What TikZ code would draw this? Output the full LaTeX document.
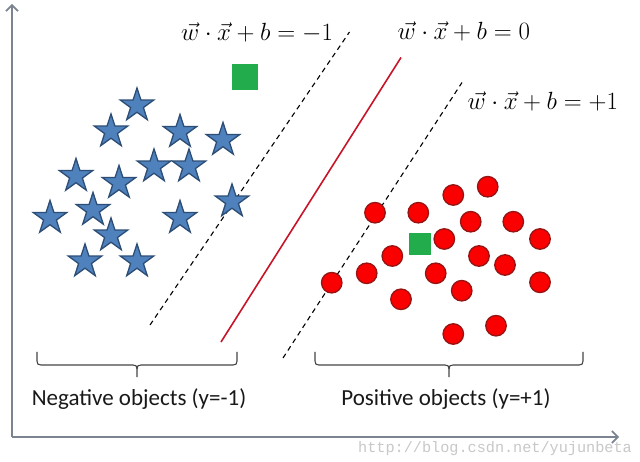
\documentclass[tikz,border=0pt]{standalone}
\usepackage{fontspec}
\newfontfamily\labelfont{Carlito}
\newfontfamily\wmfont{Liberation Mono}
\usetikzlibrary{shapes.geometric,arrows.meta}
\definecolor{starblue}{RGB}{79,129,189}
\definecolor{stardark}{RGB}{44,77,117}
\definecolor{dotred}{RGB}{250,0,0}
\definecolor{dotdark}{RGB}{150,20,20}
\definecolor{sqgreen}{RGB}{34,172,76}
\definecolor{axisgray}{RGB}{125,132,145}
\definecolor{bracegray}{RGB}{70,70,70}
\definecolor{sepred}{RGB}{200,20,40}
\definecolor{wmgray}{RGB}{200,200,200}
\begin{document}
\begin{tikzpicture}[x=1pt,y=-1pt,
 starnode/.style={star, star points=5, star point ratio=2.6, minimum size=35pt, inner sep=0pt, fill=starblue, draw=stardark, line width=1.3pt},
 dotnode/.style={circle, minimum size=20.5pt, inner sep=0pt, fill=dotred, draw=dotdark, line width=1.3pt},
 sqnode/.style={rectangle, inner sep=0pt, fill=sqgreen},
 eqnode/.style={anchor=base west, inner sep=0pt, font=\fontsize{27.5}{32}\selectfont},
 labelnode/.style={anchor=base, inner sep=0pt, font=\labelfont\fontsize{23}{27}\selectfont, text=black!90},
 wmnode/.style={anchor=base west, inner sep=0pt, font=\wmfont\fontsize{15.2}{18}\selectfont, text=wmgray},
 margin/.style={dash pattern=on 5pt off 4pt, line width=1.1pt},
 sepline/.style={sepred, line width=1.6pt},
 axisline/.style={axisgray, line width=1.6pt, -{Straight Barb[length=6pt,width=12pt]}},
 bracepath/.style={bracegray, line width=1.1pt}
]
\useasboundingbox[fill=white] (0,0) rectangle (640,462);

% axes
\coordinate (O) at (12,437);
\coordinate (ytop) at (12,4);
\coordinate (xend) at (619,437);
\node[wmnode] (wm) at (358,452) {http://blog.csdn.net/yujunbeta};
\draw[axisline] (O) -- (ytop);
\draw[axisline] (O) -- (xend);

% separating lines
\coordinate (m1a) at (150,325);
\coordinate (m1b) at (349.5,32);
\coordinate (h0a) at (221,342);
\coordinate (h0b) at (401,57.5);
\coordinate (m2a) at (283,358);
\coordinate (m2b) at (462,82.5);
\draw[margin] (m1a) -- (m1b);
\draw[sepline] (h0a) -- (h0b);
\draw[margin] (m2a) -- (m2b);

% equations
\node[eqnode] (e1) at (181,40.7) {$\vec{w}\cdot\vec{x}+b=-1$};
\node[eqnode] (e2) at (397.5,40) {$\vec{w}\cdot\vec{x}+b=0$};
\node[eqnode] (e3) at (467.5,110) {$\vec{w}\cdot\vec{x}+b=+1$};

% stars
\node[starnode] (s1) at (137,105.5) {};
\node[starnode] (s2) at (111,131.5) {};
\node[starnode] (s3) at (180,132) {};
\node[starnode] (s4) at (223,140) {};
\node[starnode] (s5) at (76,176) {};
\node[starnode] (s6) at (119,183) {};
\node[starnode] (s7) at (154,166.5) {};
\node[starnode] (s8) at (189,166.5) {};
\node[starnode] (s9) at (50,218) {};
\node[starnode] (s10) at (93,210) {};
\node[starnode] (s11) at (232,201.5) {};
\node[starnode] (s12) at (180,218) {};
\node[starnode] (s13) at (111,235.5) {};
\node[starnode] (s14) at (85,261.5) {};
\node[starnode] (s15) at (137,261.5) {};

% circles
\node[dotnode] (c1) at (375,212.7) {};
\node[dotnode] (c2) at (418.3,212.7) {};
\node[dotnode] (c3) at (453.3,195) {};
\node[dotnode] (c4) at (487.7,186.7) {};
\node[dotnode] (c5) at (470.7,221.7) {};
\node[dotnode] (c6) at (513.3,221.7) {};
\node[dotnode] (c7) at (540,239) {};
\node[dotnode] (c8) at (444.3,239) {};
\node[dotnode] (c9) at (392.3,256) {};
\node[dotnode] (c10) at (479,256) {};
\node[dotnode] (c11) at (505,265) {};
\node[dotnode] (c12) at (366.7,273.3) {};
\node[dotnode] (c13) at (435.7,273.3) {};
\node[dotnode] (c14) at (331.7,282.7) {};
\node[dotnode] (c15) at (540,282.3) {};
\node[dotnode] (c16) at (461.7,290.7) {};
\node[dotnode] (c17) at (401,299.3) {};
\node[dotnode] (c18) at (496,325.7) {};
\node[dotnode] (c19) at (453.3,334) {};

% green squares
\node[sqnode, minimum size=26pt] (g1) at (245,77) {};
\node[sqnode, minimum size=22pt] (g2) at (420,244) {};

% braces
\draw[bracepath] (37,352) -- (37,361) .. controls (37,364) and (38,365) .. (41,365) -- (133,365) .. controls (136,365) and (137,366) .. (137,369) -- (137,377);
\draw[bracepath] (137,369) .. controls (137,366) and (138,365) .. (141,365) -- (233,365) .. controls (236,365) and (237,364) .. (237,361) -- (237,352);
\draw[bracepath] (315,352) -- (315,361) .. controls (315,364) and (316,365) .. (319,365) -- (445,365) .. controls (448,365) and (449,366) .. (449,369) -- (449,377);
\draw[bracepath] (449,369) .. controls (449,366) and (450,365) .. (453,365) -- (579,365) .. controls (582,365) and (583,364) .. (583,361) -- (583,352);

% labels
\node[labelnode] (neg) at (139,405) {Negative objects (y=-1)};
\node[labelnode] (pos) at (446,405) {Positive objects (y=+1)};
\end{tikzpicture}
\end{document}
